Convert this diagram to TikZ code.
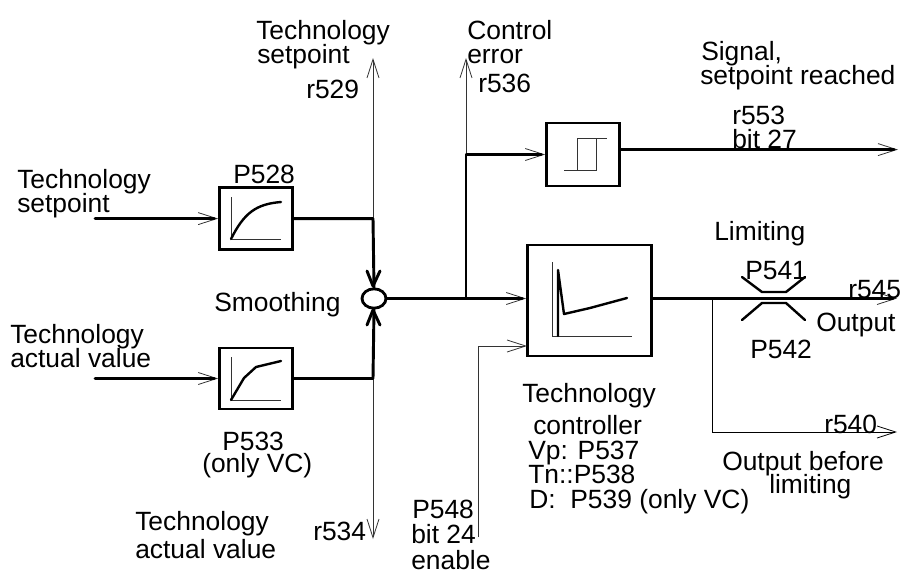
\documentclass[tikz,border=0pt]{standalone}
\usepackage{fontspec}
\setmainfont{Liberation Sans}
\usetikzlibrary{arrows.meta,shapes.geometric}
\tikzset{
 thickw/.style={line width=2.2pt,line cap=round,line join=round},
 midw/.style={line width=1.8pt,line cap=round,line join=round},
 thinw/.style={line width=0.6pt,black!80},
 blockbox/.style={draw,line width=2pt,inner sep=0pt},
 lab/.style={anchor=base west,inner sep=0pt,font=\fontsize{19.8pt}{22pt}\selectfont},
 openarrow/.style={-{Straight Barb[length=14pt,width=9pt,line width=0.6pt]}},
 bar/.style={line width=0.6pt,black!80},
}
\newcommand{\blk}[5]{\node[blockbox,minimum width=#4*0.75pt,minimum height=#5*0.75pt] (#1) at (#2,#3) {};}
\newcommand{\lb}[3]{\node[lab] at (#1,#2) {#3};}
\begin{document}
\begin{tikzpicture}[x=0.75pt,y=-0.75pt]
\useasboundingbox (0,0) rectangle (901,572);
\fill[white] (0,0) rectangle (901,572);
% blocks
\blk{pa}{256}{218.6}{73}{62}
\blk{pb}{256}{378.5}{73}{61}
\blk{hy}{583}{154.5}{73}{63}
\blk{ct}{589.5}{300.5}{124}{111}
\node[draw,line width=2.1pt,ellipse,minimum width=18pt,minimum height=14.5pt,inner sep=0pt] (sum) at (374,298.5) {};
% coordinates
\coordinate (spin) at (95,218.6);
\coordinate (avin) at (95,378.5);
\coordinate (up) at (373,58);
\coordinate (down) at (373,539);
\coordinate (ja) at (373,218.6);
\coordinate (jb) at (373,378.5);
\coordinate (je) at (466,298.5);
\coordinate (jh) at (466,154.5);
\coordinate (ce) at (466,58);
\coordinate (hyout) at (898,149.6);
\coordinate (ctout) at (897,298.5);
\coordinate (jo) at (712,298.5);
\coordinate (r540) at (897,432);
\coordinate (en) at (478,537);
\coordinate (ctin) at (527,346);
% thin arrows
\draw[thinw,openarrow] (ja) -- (up);
\draw[thinw,openarrow] (jb) -- (down);
\draw[thinw,openarrow] (jh) -- (ce);
\draw[thinw,openarrow] (en) |- (ctin);
\draw[thinw,openarrow,black] (jo) |- (r540);
\draw[thinw,openarrow] (spin) -- (pa.west);
\draw[thinw,openarrow] (avin) -- (pb.west);
\draw[thinw,openarrow] (500,298.5) -- (ct.west |- sum.east);
\draw[thinw,openarrow] (506,154.5) -- (hy.west);
\draw[thinw,openarrow] (880,149.6) -- (hyout);
\draw[thinw,openarrow] (880,298.5) -- (ctout);
% thick lines
\draw[thickw,shorten >=3pt] (spin) -- (pa.west);
\draw[thickw,shorten >=3pt] (avin) -- (pb.west);
\draw[thickw] (pa.east) -- (ja) -- (sum.north);
\draw[thickw] (pb.east) -- (jb) -- (sum.south);
\draw[thickw] (367,271) -- (373,286) -- (380,271);
\draw[thickw] (367,325) -- (373,310) -- (380,325);
\draw[thickw,shorten >=3pt] (sum.east) -- (ct.west |- sum.east);
\draw[thickw,shorten >=3pt] (je) |- (hy.west);
\draw[thickw,shorten >=3pt] (hy.east |- hyout) -- (hyout);
\draw[thickw,shorten >=3pt] (ct.east |- sum.east) -- (ctout);
% limiter
\draw[midw] (742,277) -- (762,292) -- (786,292) -- (805,277);
\draw[midw] (742,320) -- (762,303) -- (786,303) -- (805,320);
% block graphics
\draw[bar] (231,197) -- (231,239) -- (281,239);
\draw[midw] (231,239) .. controls (244,213) and (256,204) .. (281,202);
\draw[bar] (231,357) -- (231,400) -- (281,400);
\draw[midw] (231,400) -- (244,378) -- (256,367) -- (281,361);
\draw[bar] (564,170) -- (596,170) -- (596,138);
\draw[bar] (577,170) -- (577,138) -- (607,138);
\draw[bar] (552,262) -- (552,336) -- (632,336);
\draw[midw] (558,336) -- (558,270) -- (564,314) -- (590,308) -- (627,298);
% labels
\lb{256}{39}{Technology}
\lb{257}{63}{setpoint}
\lb{306}{98}{r529}
\lb{467}{39}{Control}
\lb{467}{63}{error}
\lb{478}{92}{r536}
\lb{701}{60}{Signal,}
\lb{700}{84}{setpoint reached}
\lb{732}{124}{r553}
\lb{732}{148}{bit 27}
\lb{17}{188}{Technology}
\lb{17}{212}{setpoint}
\lb{233}{183}{P528}
\lb{214}{311}{Smoothing}
\lb{714}{240}{Limiting}
\lb{745}{279}{P541}
\lb{750}{358}{P542}
\lb{848}{298}{r545}
\lb{816}{331}{Output}
\lb{10}{343}{Technology}
\lb{10}{367}{actual value}
\lb{222}{450}{P533}
\lb{202}{472}{(only VC)}
\lb{135}{530}{Technology}
\lb{135}{558}{actual value}
\lb{313}{540}{r534}
\lb{412}{518}{P548}
\lb{411}{543}{bit 24}
\lb{411}{569}{enable}
\lb{522}{402}{Technology}
\lb{533}{434}{controller}
\lb{528}{459}{Vp: P537}
\lb{528}{483}{Tn::P538}
\lb{529}{508}{D:\ \ P539 (only VC)}
\lb{824}{433}{r540}
\lb{722}{470}{Output before}
\lb{769}{493}{limiting}
\end{tikzpicture}
\end{document}
